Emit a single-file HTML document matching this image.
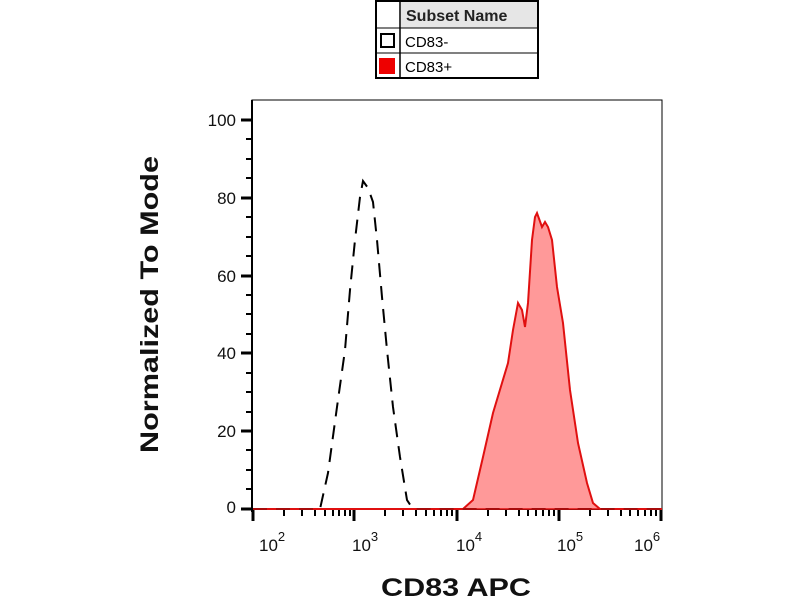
<!DOCTYPE html>
<html><head><style>body{margin:0;background:#fff}svg{display:block}</style></head><body>
<svg width="800" height="600" xmlns="http://www.w3.org/2000/svg" font-family="Liberation Sans, sans-serif">
<rect width="800" height="600" fill="#fff"/>
<rect x="376" y="1" width="162" height="77" fill="#fff" stroke="#000" stroke-width="2"/>
<rect x="401" y="2" width="136" height="26" fill="#e6e6e6"/>
<line x1="400" y1="1" x2="400" y2="78" stroke="#000" stroke-width="1.5"/>
<line x1="376" y1="28" x2="538" y2="28" stroke="#000" stroke-width="1"/>
<line x1="376" y1="53" x2="538" y2="53" stroke="#000" stroke-width="1"/>
<text x="406" y="21" font-size="16" font-weight="bold" fill="#222">Subset Name</text>
<rect x="381" y="34" width="13" height="13" fill="#fff" stroke="#000" stroke-width="2"/>
<rect x="379" y="58" width="16" height="16" fill="#e00"/>
<text x="405" y="47" font-size="15">CD83-</text>
<text x="405" y="72" font-size="15">CD83+</text>
<rect x="252" y="100" width="410" height="409" fill="none" stroke="#000" stroke-width="1"/>
<line x1="252" y1="100" x2="252" y2="512" stroke="#000" stroke-width="2"/>
<line x1="241" y1="509" x2="662" y2="509" stroke="#000" stroke-width="2"/>
<g stroke="#000" stroke-width="3">
<line x1="241" y1="120" x2="252" y2="120"/><line x1="241" y1="198" x2="252" y2="198"/><line x1="241" y1="276" x2="252" y2="276"/><line x1="241" y1="353" x2="252" y2="353"/><line x1="241" y1="431" x2="252" y2="431"/><line x1="241" y1="509" x2="252" y2="509"/>
</g>
<g stroke="#000" stroke-width="2">
<line x1="246" y1="139" x2="252" y2="139"/><line x1="246" y1="159" x2="252" y2="159"/><line x1="246" y1="178" x2="252" y2="178"/>
<line x1="246" y1="217" x2="252" y2="217"/><line x1="246" y1="237" x2="252" y2="237"/><line x1="246" y1="256" x2="252" y2="256"/>
<line x1="246" y1="295" x2="252" y2="295"/><line x1="246" y1="314" x2="252" y2="314"/><line x1="246" y1="334" x2="252" y2="334"/>
<line x1="246" y1="373" x2="252" y2="373"/><line x1="246" y1="392" x2="252" y2="392"/><line x1="246" y1="412" x2="252" y2="412"/>
<line x1="246" y1="450" x2="252" y2="450"/><line x1="246" y1="470" x2="252" y2="470"/><line x1="246" y1="489" x2="252" y2="489"/>
</g>
<g font-size="17" text-anchor="end" fill="#111">
<text x="236" y="126">100</text><text x="236" y="204">80</text><text x="236" y="282">60</text><text x="236" y="359">40</text><text x="236" y="437">20</text><text x="236" y="513">0</text>
</g>
<g stroke="#000" stroke-width="3">
<line x1="253" y1="509" x2="253" y2="521"/><line x1="354" y1="509" x2="354" y2="521"/><line x1="457" y1="509" x2="457" y2="521"/><line x1="559" y1="509" x2="559" y2="521"/><line x1="661" y1="509" x2="661" y2="521"/>
</g>
<g stroke="#000" stroke-width="2">
<line x1="284" y1="509" x2="284" y2="516"/><line x1="302" y1="509" x2="302" y2="516"/><line x1="315" y1="509" x2="315" y2="516"/><line x1="325" y1="509" x2="325" y2="516"/><line x1="333" y1="509" x2="333" y2="516"/><line x1="339" y1="509" x2="339" y2="516"/><line x1="345" y1="509" x2="345" y2="516"/><line x1="350" y1="509" x2="350" y2="516"/>
<line x1="385" y1="509" x2="385" y2="516"/><line x1="403" y1="509" x2="403" y2="516"/><line x1="416" y1="509" x2="416" y2="516"/><line x1="426" y1="509" x2="426" y2="516"/><line x1="434" y1="509" x2="434" y2="516"/><line x1="441" y1="509" x2="441" y2="516"/><line x1="447" y1="509" x2="447" y2="516"/><line x1="452" y1="509" x2="452" y2="516"/>
<line x1="488" y1="509" x2="488" y2="516"/><line x1="506" y1="509" x2="506" y2="516"/><line x1="519" y1="509" x2="519" y2="516"/><line x1="528" y1="509" x2="528" y2="516"/><line x1="536" y1="509" x2="536" y2="516"/><line x1="543" y1="509" x2="543" y2="516"/><line x1="549" y1="509" x2="549" y2="516"/><line x1="554" y1="509" x2="554" y2="516"/>
<line x1="590" y1="509" x2="590" y2="516"/><line x1="608" y1="509" x2="608" y2="516"/><line x1="621" y1="509" x2="621" y2="516"/><line x1="630" y1="509" x2="630" y2="516"/><line x1="638" y1="509" x2="638" y2="516"/><line x1="645" y1="509" x2="645" y2="516"/><line x1="651" y1="509" x2="651" y2="516"/><line x1="656" y1="509" x2="656" y2="516"/>
</g>
<g font-size="17" fill="#111">
<text x="259" y="551">10<tspan font-size="13" dy="-10">2</tspan></text>
<text x="352" y="551">10<tspan font-size="13" dy="-10">3</tspan></text>
<text x="456" y="551">10<tspan font-size="13" dy="-10">4</tspan></text>
<text x="557" y="551">10<tspan font-size="13" dy="-10">5</tspan></text>
<text x="634" y="551">10<tspan font-size="13" dy="-10">6</tspan></text>
</g>
<path d="M253,509 L463,509 L473,500 L483,457 L493,413 L502,383 L508,363 L513,330 L518,303 L522,310 L525,327 L528,303 L532,240 L535,217 L537,213 L542,227 L545,222 L548,227 L552,240 L557,287 L563,323 L570,390 L578,443 L587,483 L593,503 L600,509 L662,509" fill="#f99" stroke="#e01010" stroke-width="2"/>
<path d="M253,509 L320,509 L328,473 L337,407 L345,350 L350,290 L355,240 L360,197 L363,181 L368,188 L373,202 L377,240 L382,297 L387,350 L393,407 L400,457 L407,500 L413,509 L662,509" fill="none" stroke="#000" stroke-width="2" stroke-dasharray="14,9"/>
<line x1="253" y1="509" x2="662" y2="509" stroke="#e01010" stroke-width="1.5"/>
<text x="381" y="596" font-size="25" font-weight="bold" fill="#111" textLength="150" lengthAdjust="spacingAndGlyphs">CD83 APC</text>
<text transform="translate(158,453) rotate(-90)" font-size="25" font-weight="bold" fill="#111" textLength="297" lengthAdjust="spacingAndGlyphs">Normalized To Mode</text>
</svg>
</body></html>
